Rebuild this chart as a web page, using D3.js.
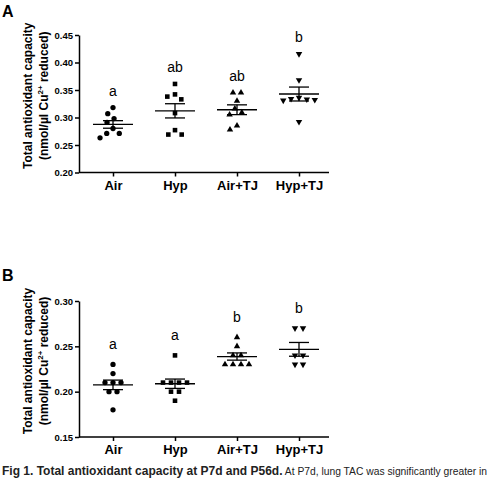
<!DOCTYPE html>
<html>
<head>
<meta charset="utf-8">
<script src="https://cdn.jsdelivr.net/npm/d3@7"></script>
<style>
  body { margin: 0; background: #fff; }
  svg { display: block; font-family: "Liberation Sans", Arial, Helvetica, sans-serif; }
</style>
</head>
<body>
<div id="chart"></div>
<script>
const categories = ["Air", "Hyp", "Air+TJ", "Hyp+TJ"];

// P7d (panel A)
const airP7 = [0.318, 0.307, 0.298, 0.291, 0.280, 0.271, 0.271, 0.263];
const hypP7 = [0.361, 0.342, 0.338, 0.333, 0.308, 0.277, 0.269, 0.269];
const airTjP7 = [0.345, 0.345, 0.330, 0.316, 0.309, 0.305, 0.285, 0.278];
const hypTjP7 = [0.4155, 0.368, 0.336, 0.334, 0.333, 0.332, 0.331, 0.292];
const lettersP7 = ["a", "ab", "ab", "b"];
const ticksP7 = [0.20, 0.25, 0.30, 0.35, 0.40, 0.45];

// P56d (panel B)
const airP56 = [0.23, 0.22, 0.21, 0.21, 0.21, 0.20, 0.20, 0.18];
const hypP56 = [0.24, 0.21, 0.21, 0.21, 0.21, 0.20, 0.20, 0.19];
const airTjP56 = [0.26, 0.25, 0.24, 0.24, 0.23, 0.23, 0.23, 0.23];
const hypTjP56 = [0.27, 0.27, 0.24, 0.24, 0.23, 0.23];
const lettersP56 = ["a", "a", "b", "b"];
const ticksP56 = [0.15, 0.20, 0.25, 0.30];

const width = 503;
const height = 478;
const axisX = 79;
const axisEnd = 329;
const diam = 8;

const symbols = [
  { type: d3.symbolCircle, size: 22, rotate: 0 },
  { type: d3.symbolSquare, size: 21, rotate: 0 },
  { type: d3.symbolTriangle, size: 18, rotate: 0 },
  { type: d3.symbolTriangle, size: 18, rotate: 180 },
];

const svg = d3.select("#chart")
  .append("svg")
  .attr("width", width)
  .attr("height", height);

svg.append("rect")
  .attr("width", width)
  .attr("height", height)
  .attr("fill", "#fff");

const x = d3.scalePoint()
  .domain(categories)
  .range([113, 299]);

// simple beeswarm: push each point sideways until it clears the ones above
const swarm = (values, y) => {
  const placed = [];
  values.map(v => v).sort((a, b) => b - a).forEach(v => {
    const py = y(v);
    const blocked = placed
      .filter(p => Math.abs(p.y - py) < diam)
      .map(p => {
        const w = Math.sqrt(diam * diam - (p.y - py) ** 2);
        return [p.dx - w, p.dx + w];
      });
    const candidates = [0, ...blocked.flat()]
      .sort((a, b) => Math.abs(a) - Math.abs(b));
    const dx = candidates.find(c =>
      blocked.every(([lo, hi]) => c <= lo + 1e-6 || c >= hi - 1e-6));
    placed.push({ v, y: py, dx });
  });
  // centre rows of equal values
  d3.group(placed, p => p.v).forEach(row => {
    if (row.length < 2) return;
    const shift = d3.mean(row, p => p.dx);
    row.forEach(p => { p.dx -= shift; });
  });
  return placed;
};

function drawPanel(cfg) {
  const y = d3.scaleLinear()
    .domain(d3.extent(cfg.ticks))
    .range([cfg.bottom, cfg.top]);

  const g = svg.append("g");

  // panel letter
  g.append("text")
    .attr("x", 2)
    .attr("y", cfg.labelY)
    .attr("font-size", 16)
    .attr("font-weight", "bold")
    .text(cfg.label);

  // y axis
  const yAxis = g.append("g")
    .attr("transform", `translate(${axisX},0)`)
    .call(d3.axisLeft(y)
      .tickValues(cfg.ticks)
      .tickFormat(d3.format(".2f"))
      .tickSize(4)
      .tickSizeOuter(0)
      .tickPadding(2));
  yAxis.selectAll("path, line").attr("stroke", "#000").attr("stroke-width", 1.5);
  yAxis.selectAll("text")
    .attr("font-size", 9.5)
    .attr("font-weight", "bold")
    .attr("font-family", "Liberation Sans, Arial, sans-serif")
    .attr("fill", "#000");

  // x axis
  const xAxis = g.append("g")
    .attr("transform", `translate(0,${cfg.bottom})`)
    .call(d3.axisBottom(x)
      .tickSize(4)
      .tickSizeOuter(0)
      .tickPadding(4));
  xAxis.select(".domain").attr("d", `M${axisX},0H${axisEnd}`);
  xAxis.selectAll("path, line").attr("stroke", "#000").attr("stroke-width", 1.5);
  xAxis.selectAll("text")
    .attr("font-size", 13)
    .attr("font-weight", "bold")
    .attr("font-family", "Liberation Sans, Arial, sans-serif")
    .attr("fill", "#000");

  // y title
  const mid = (cfg.top + cfg.bottom) / 2 - 8;
  g.append("text")
    .attr("transform", `translate(32,${mid}) rotate(-90)`)
    .attr("text-anchor", "middle")
    .attr("font-size", 12)
    .attr("font-weight", "bold")
    .text("Total antioxidant capacity");
  const t2 = g.append("text")
    .attr("transform", `translate(48,${mid}) rotate(-90)`)
    .attr("text-anchor", "middle")
    .attr("font-size", 12)
    .attr("font-weight", "bold");
  t2.append("tspan").text("(nmol/µl Cu");
  t2.append("tspan").attr("font-size", 8).attr("dy", -5).text("2+");
  t2.append("tspan").attr("dy", 5).text(" reduced)");

  cfg.groups.forEach((vals, i) => {
    const cx = x(categories[i]);
    const sym = symbols[i];
    const pts = swarm(vals, y);

    g.append("g")
      .selectAll("path")
      .data(pts)
      .join("path")
      .attr("d", d3.symbol().type(sym.type).size(sym.size))
      .attr("transform", d => `translate(${cx + d.dx},${d.y}) rotate(${sym.rotate})`)
      .attr("fill", "#000");

    const m = d3.mean(vals);
    const sem = d3.deviation(vals) / Math.sqrt(vals.length);
    const bars = g.append("g")
      .attr("stroke", "#000")
      .attr("stroke-width", 1.3);
    bars.append("line")
      .attr("x1", cx - 20).attr("x2", cx + 20)
      .attr("y1", y(m)).attr("y2", y(m));
    [m - sem, m + sem].forEach(v => {
      bars.append("line")
        .attr("x1", cx - 10).attr("x2", cx + 10)
        .attr("y1", y(v)).attr("y2", y(v));
    });
    bars.append("line")
      .attr("x1", cx).attr("x2", cx)
      .attr("y1", y(m - sem)).attr("y2", y(m + sem));

    g.append("text")
      .attr("x", cx)
      .attr("y", y(d3.max(vals)) - cfg.letterGap)
      .attr("text-anchor", "middle")
      .attr("font-size", 14)
      .text(cfg.letters[i]);
  });
}

drawPanel({
  label: "A",
  labelY: 17,
  top: 35,
  bottom: 172.5,
  ticks: ticksP7,
  groups: [airP7, hypP7, airTjP7, hypTjP7],
  letters: lettersP7,
  letterGap: 12,
});

drawPanel({
  label: "B",
  labelY: 281,
  top: 301,
  bottom: 437,
  ticks: ticksP56,
  groups: [airP56, hypP56, airTjP56, hypTjP56],
  letters: lettersP56,
  letterGap: 15,
});

// figure caption
const caption = svg.append("text")
  .attr("x", 2)
  .attr("y", 475)
  .attr("fill", "#222");
caption.append("tspan")
  .attr("font-size", 12)
  .attr("font-weight", "bold")
  .text("Fig 1. Total antioxidant capacity at P7d and P56d.");
caption.append("tspan")
  .attr("font-size", 10.3)
  .text(" At P7d, lung TAC was significantly greater in");
</script>
</body>
</html>
